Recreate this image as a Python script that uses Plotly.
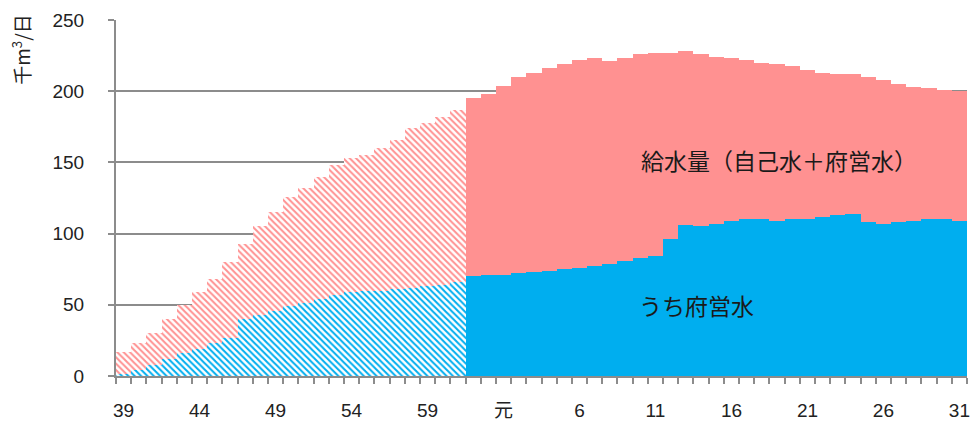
import plotly.graph_objects as go

# Fiscal years: Showa 39-63, then Heisei 元 (1) to 31
years = [str(y) for y in range(39, 64)] + ["元"] + [str(y) for y in range(2, 32)]

# Total water supply (own sources + prefectural supply), thousand m3/day
supply_total = [17, 23, 30, 40, 50, 59, 68, 80, 93, 105,
                115, 126, 132, 140, 148, 153, 155, 160, 166, 174,
                178, 182, 187, 195, 198, 204, 210, 213, 216, 219,
                222, 223, 221, 223, 226, 227, 227, 228, 226, 224,
                223, 222, 220, 219, 218, 215, 213, 212, 212, 210,
                208, 205, 203, 202, 201, 200]

# Of which: prefectural supply, thousand m3/day
prefectural = [1, 4, 8, 12, 16, 19, 23, 27, 40, 43,
               46, 49, 51, 54, 57, 59, 60, 60, 61, 62,
               63, 64, 66, 70, 71, 71, 72, 73, 74, 75,
               76, 77, 79, 81, 83, 84, 96, 106, 105, 107,
               109, 110, 110, 109, 110, 110, 112, 113, 114, 108,
               107, 108, 109, 110, 110, 109]

tick_labels = ["39", "44", "49", "54", "59", "元", "6", "11", "16", "21", "26", "31"]

# The early years (through Showa 61) are drawn hatched
n_hatched = years.index("62")

PINK = "#FF9191"
BLUE = "#00AEEF"
GRID = "#8C8C8C"
FONT = "Liberation Sans, Noto Sans CJK JP, sans-serif"
CJK = "Noto Sans CJK JP, sans-serif"

x = list(range(len(years)))
shapes = ["\\"] * n_hatched + [""] * (len(years) - n_hatched)


def bar(values, color, name):
    return go.Bar(
        x=x, y=values, name=name, customdata=years,
        hovertemplate="%{customdata}: %{y}<extra></extra>",
        marker=dict(
            color=color, line=dict(width=0),
            pattern=dict(shape=shapes, fgcolor=color, bgcolor="white",
                         size=4.5, solidity=0.45, fillmode="replace"),
        ),
    )


fig = go.Figure([bar(supply_total, PINK, "給水量"), bar(prefectural, BLUE, "うち府営水")])

tickvals = [years.index(t) for t in tick_labels]

fig.update_layout(
    width=975, height=423,
    margin=dict(l=116, r=8, t=20, b=47),
    barmode="overlay", bargap=0,
    plot_bgcolor="white", paper_bgcolor="white",
    showlegend=False,
    font=dict(family=FONT, size=19, color="#222222"),
    xaxis=dict(
        range=[-0.5, len(years) - 0.5],
        tickmode="array", tickvals=tickvals, ticktext=tick_labels,
        ticks="", showgrid=False, zeroline=False,
        showline=True, linecolor=GRID, linewidth=2,
        ticklabelstandoff=16, automargin=False,
        tickfont=dict(family=FONT, size=19),
        minor=dict(tickmode="array", tickvals=[i - 0.5 for i in range(len(years) + 1)],
                   ticks="outside", ticklen=6, tickwidth=1.5, tickcolor=GRID, showgrid=False),
    ),
    yaxis=dict(
        range=[0, 250], tickmode="linear", tick0=0, dtick=50,
        showgrid=True, gridcolor=GRID, gridwidth=2,
        zeroline=False, showline=True, linecolor=GRID, linewidth=2,
        ticks="outside", ticklen=6, tickwidth=2, tickcolor=GRID,
        ticklabelstandoff=20, automargin=False,
        tickfont=dict(family=FONT, size=19),
    ),
    annotations=[
        dict(text="千m<sup>3</sup>/日", xref="paper", yref="paper", x=-0.111, y=0.915,
             textangle=-90, showarrow=False, xanchor="center", yanchor="middle",
             font=dict(family=CJK, size=19, color="#222222")),
        dict(text="給水量（自己水＋府営水）", x=43.1, y=151.5, showarrow=False,
             xanchor="center", yanchor="middle",
             font=dict(family=CJK, size=23, color="#1A1A1A")),
        dict(text="うち府営水", x=37.7, y=49.6, showarrow=False,
             xanchor="center", yanchor="middle",
             font=dict(family=CJK, size=23, color="#1A1A1A")),
    ],
)

fig.write_html("out.html")
